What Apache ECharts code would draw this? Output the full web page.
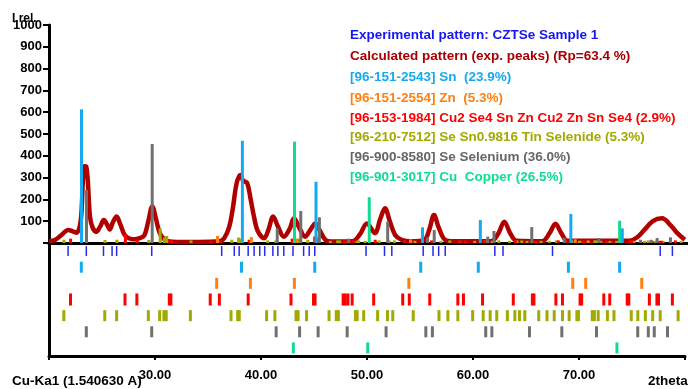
<!DOCTYPE html>
<html><head><meta charset="utf-8">
<script src="https://cdn.jsdelivr.net/npm/echarts@6/dist/echarts.min.js"></script>
<style>html,body{margin:0;padding:0;background:#fff}#c{width:688px;height:389px}</style>
</head><body><div id="c"></div>
<script>
// ---- data ----
const calcPattern = [[20.0,8],[20.6,15],[21.2,38],[21.8,60],[22.3,52],[22.6,47],[22.9,80],[23.05,140],[23.2,300],[23.35,352],[23.5,350],[23.65,280],[23.85,120],[24.1,70],[24.45,52],[24.8,75],[25.15,105],[25.45,85],[25.7,62],[26.0,95],[26.35,122],[26.7,85],[27.1,37],[27.5,22],[28.0,17],[28.5,22],[28.95,35],[29.3,95],[29.7,168],[30.05,110],[30.4,45],[30.8,18],[31.2,8],[32,5],[34,5],[36.0,8],[36.45,22],[36.9,70],[37.25,155],[37.6,270],[37.95,312],[38.25,285],[38.6,276],[38.9,210],[39.25,120],[39.6,55],[40.2,22],[40.6,60],[41.05,122],[41.5,75],[42.05,29],[42.6,65],[43.0,113],[43.5,70],[44.05,29],[44.6,65],[45.0,90],[45.4,60],[45.95,14],[46.5,7],[48.5,8],[49.2,40],[49.85,90],[50.6,45],[51.1,110],[51.55,159],[52.0,100],[52.5,37],[53.1,15],[54,8],[55.2,12],[55.7,60],[56.15,128],[56.6,70],[57.2,14],[58,8],[61.5,8],[62.2,45],[62.75,98],[63.3,45],[63.9,10],[66.3,8],[67.0,45],[67.55,88],[68.1,45],[68.7,10],[74.5,10],[75.2,25],[75.9,60],[76.7,100],[77.55,113],[78.4,80],[79.0,45],[79.7,15]];

const expPeaks = [21.80,23.52,25.14,25.95,26.38,29.69,36.29,37.48,37.94,38.79,39.35,39.88,40.35,41.12,41.59,42.15,43.02,44.02,44.55,45.07,49.91,51.65,52.34,55.30,56.23,56.76,57.38,62.06,62.83,67.50,77.66,78.81];

const snPeaks = [[23.05,613],[38.16,469],[45.07,281],[55.07,72],[60.5,105],[69.0,133],[73.83,67]];
const znPeaks = [[35.82,32],[39.0,27],[43.15,20],[53.95,17],[69.41,17],[70.63,12],[75.92,10]];
const cztsePeaks = [[22.03,20],[27.17,40],[28.29,15],[31.35,12],[31.5,12],[35.21,10],[36.07,12],[38.79,15],[42.83,20],[44.95,30],[45.1,25],[47.75,10],[47.95,10],[48.2,12],[48.6,12],[50.63,15],[53.37,12],[53.99,10],[55.92,12],[58.57,10],[59.1,10],[60.9,12],[63.8,10],[65.6,10],[65.75,10],[67.82,12],[68.44,12],[70.1,10],[70.25,10],[72.34,10],[72.9,10],[74.55,12],[74.7,12],[76.64,10],[77.35,10],[77.5,10],[78.81,12]];
const snsePeaks = [[21.40,15],[25.26,14],[26.38,15],[29.37,14],[30.44,67],[30.84,25],[31.06,32],[33.34,12],[37.17,15],[37.8,25],[37.95,20],[40.53,12],[41.31,12],[43.3,20],[43.5,20],[44.30,15],[46.42,10],[47.1,12],[47.3,12],[48.91,10],[49.07,12],[49.69,10],[51.0,12],[51.93,12],[52.43,12],[54.36,10],[56.79,10],[57.63,12],[58.57,10],[59.97,10],[60.96,12],[61.62,10],[62.24,12],[63.24,10],[63.95,12],[64.39,12],[64.89,10],[66.2,10],[66.98,10],[67.66,12],[68.44,10],[69.07,12],[69.8,10],[69.95,10],[71.25,12],[71.45,12],[71.81,10],[72.68,10],[73.30,10],[74.93,10],[75.55,12],[76.26,12],[76.95,10],[77.66,10],[79.35,10]];
const sePeaks = [[23.52,243],[29.69,454],[41.43,67],[43.64,147],[45.39,118],[48.13,20],[51.8,98],[55.55,26],[56.17,60],[61.2,29],[61.78,55],[65.33,73],[68.38,24],[71.65,23],[75.54,15],[76.54,15],[77.1,23],[78.35,26]];
const cuPeaks = [[43.05,465],[50.07,210],[73.58,102]];

const yTicks = [0,100,200,300,400,500,600,700,800,900,1000];
const xTicks = [30,40,50,60,70];
const rows = ['exp','Sn','Zn','CZTSe','SnSe','Se','Cu'];

const legendLines = [
  ['Experimental pattern: CZTSe Sample 1','#1515f5'],
  ['Calculated pattern (exp. peaks) (Rp=63.4 %)','#a80000'],
  ['[96-151-2543] Sn  (23.9%)','#14aaf0'],
  ['[96-151-2554] Zn  (5.3%)','#ff8010'],
  ['[96-153-1984] Cu2 Se4 Sn Zn Cu2 Zn Sn Se4 (2.9%)','#ff0000'],
  ['[96-210-7512] Se Sn0.9816 Tin Selenide (5.3%)','#a0aa00'],
  ['[96-900-8580] Se Selenium (36.0%)','#666666'],
  ['[96-901-3017] Cu  Copper (26.5%)','#10dc90']
];

// ---- styling ----
const FONT = '"Liberation Sans", Arial, sans-serif';
const COL = {exp:'#2a2af0', calc:'#b00000', Sn:'#14aaf0', Zn:'#ff8010', CZTSe:'#ff0000', SnSe:'#a0aa00', Se:'#707070', Cu:'#10dc90'};

function stickSeries(data, color, w){
  return {
    type:'custom', xAxisIndex:0, yAxisIndex:0, z:5, data:data, silent:true,
    renderItem:function(params, api){
      const x = api.value(0), y = api.value(1);
      const top = api.coord([x,y]); const bot = api.coord([x,0]);
      return {type:'rect', shape:{x:top[0]-w/2, y:top[1], width:w, height:bot[1]-top[1]}, style:{fill:color}};
    }
  };
}
function rowSeries(row, positions, color, size){
  return {
    type:'scatter', xAxisIndex:2, yAxisIndex:1, symbol:'rect', symbolSize:size, silent:true,
    itemStyle:{color:color, opacity:1}, data:positions.map(p=>[Array.isArray(p)?p[0]:p, row])
  };
}

const chart = echarts.init(document.getElementById('c'), null, {renderer:'canvas'});
const option = {
  animation:false,
  backgroundColor:'#ffffff',
  grid:[
    {left:49, top:25, width:642, height:218},
    {left:49, top:243, width:642, height:113}
  ],
  xAxis:[
    {type:'value', gridIndex:0, min:20, max:80, interval:10, axisLine:{show:true, onZero:false, lineStyle:{color:'#000', width:3}}, axisTick:{show:false}, axisLabel:{show:false}, splitLine:{show:false}},
    {type:'value', gridIndex:0, position:'top', min:20, max:80, interval:10, axisLine:{show:true, lineStyle:{color:'#000', width:3}}, axisTick:{show:false}, axisLabel:{show:false}, splitLine:{show:false}},
    {type:'value', gridIndex:1, min:20, max:80, interval:10, axisLine:{show:true, onZero:false, lineStyle:{color:'#000', width:3}},
      axisTick:{show:true, length:4, lineStyle:{color:'#000', width:2}},
      axisLabel:{margin:13, fontFamily:FONT, fontWeight:'bold', fontSize:13, color:'#000',
        formatter:function(v){ return xTicks.indexOf(v)>=0 ? v.toFixed(2) : ''; }},
      splitLine:{show:false}}
  ],
  yAxis:[
    {type:'value', gridIndex:0, min:0, max:1000, interval:100,
      axisLine:{show:true, lineStyle:{color:'#000', width:3}},
      axisTick:{show:true, length:6, lineStyle:{color:'#000', width:2}},
      axisLabel:{margin:7, fontFamily:FONT, fontWeight:'bold', fontSize:13, color:'#000',
        formatter:function(v){ return (v>0 && yTicks.indexOf(v)>=0) ? String(v) : ''; }},
      splitLine:{show:false}},
    {type:'category', gridIndex:1, data:rows, inverse:true,
      axisLine:{show:true, lineStyle:{color:'#000', width:3}}, axisTick:{show:false}, axisLabel:{show:false}, splitLine:{show:false}}
  ],
  series:[
    {type:'line', xAxisIndex:0, yAxisIndex:0, z:3, data:calcPattern, showSymbol:false, smooth:0.35, silent:true,
      lineStyle:{color:COL.calc, width:4.5}},
    stickSeries(snsePeaks, COL.SnSe, 3),
    stickSeries(cztsePeaks, COL.CZTSe, 3),
    stickSeries(znPeaks, COL.Zn, 3),
    stickSeries(sePeaks, COL.Se, 3),
    stickSeries(cuPeaks, COL.Cu, 3),
    stickSeries(snPeaks, COL.Sn, 3),
    rowSeries('exp', expPeaks, COL.exp, [1.5,10]),
    rowSeries('Sn', snPeaks, COL.Sn, [3,11]),
    rowSeries('Zn', znPeaks, COL.Zn, [3,11]),
    rowSeries('CZTSe', cztsePeaks, COL.CZTSe, [3,12]),
    rowSeries('SnSe', snsePeaks, COL.SnSe, [3,11]),
    rowSeries('Se', sePeaks, COL.Se, [3,11]),
    rowSeries('Cu', cuPeaks, COL.Cu, [3,11])
  ],
  graphic:[
    {type:'text', left:12, top:13, z:20, style:{text:'I rel.', font:'bold 12px '+FONT, fill:'#000'}},
    {type:'text', left:12, top:374, z:20, style:{text:'Cu-Ka1 (1.540630 A)', font:'bold 13.5px '+FONT, fill:'#000'}},
    {type:'text', left:648, top:374, z:20, style:{text:'2theta', font:'bold 13.5px '+FONT, fill:'#000'}}
  ].concat(legendLines.map(function(l, i){
    const ys = [36.7,57.3,78.3,99,119.3,138.3,158.3,178.3];
    return {type:'text', left:350, top:ys[i]-8, z:20, style:{text:l[0], font:'bold 13.5px '+FONT, fill:l[1]}};
  }))
};
chart.setOption(option);
</script></body></html>
